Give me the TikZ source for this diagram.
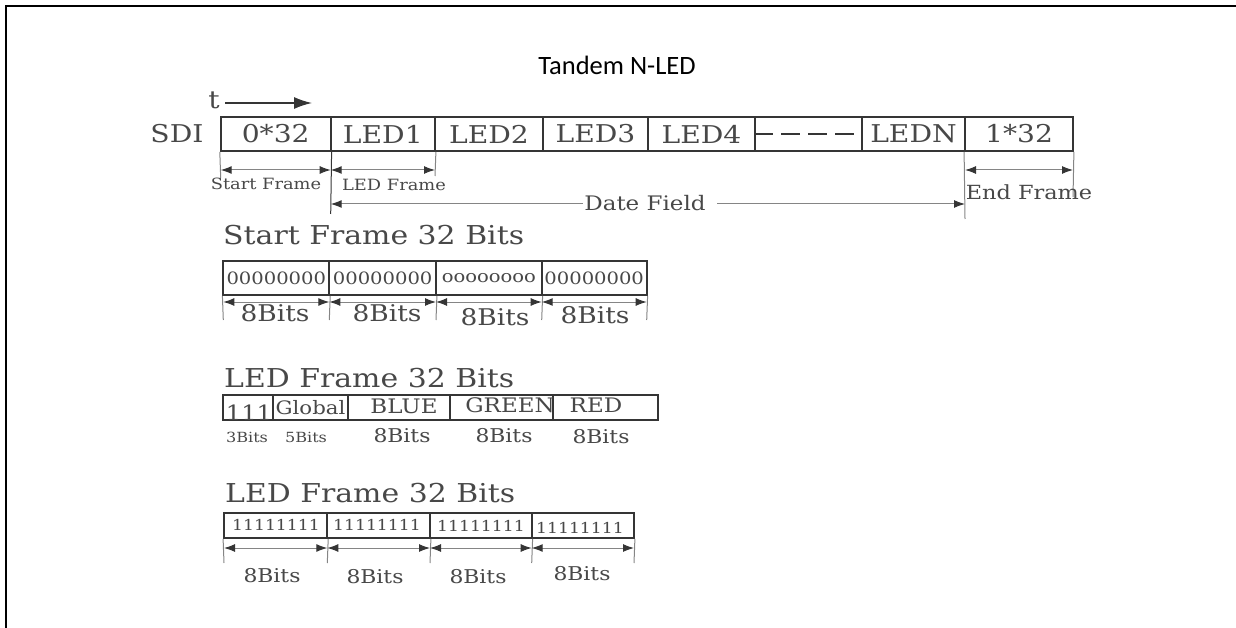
\documentclass[tikz,border=0pt]{standalone}
\usepackage{fontspec}
\setmainfont[FakeStretch=1.15]{DejaVu Serif}
\newfontfamily\titlefont{Carlito}
\usetikzlibrary{arrows.meta}
\newcommand\fsz[1]{\fontsize{#1}{#1}\selectfont}
\definecolor{ink}{HTML}{353535}
\definecolor{txt}{HTML}{484848}
\definecolor{dimc}{HTML}{858585}
\tikzset{
  cell/.style={draw=ink, line width=1.8pt, inner sep=0pt, text=txt},
  lbl/.style={text=txt, inner sep=0pt},
  dimline/.style={draw=dimc, line width=1pt},
  dimarrow/.style={draw=dimc, line width=1pt,
     {Latex[length=11pt,width=8pt,color=ink]}-{Latex[length=11pt,width=8pt,color=ink]}},
  rowfont/.style={font=\fsz{24.5}},
}
\begin{document}
\begin{tikzpicture}[x=1pt,y=-1pt]
\useasboundingbox (0,0) rectangle (1236,628);
% border
\coordinate (bTL) at (6,6);
\coordinate (bTR) at (1240,6);
\coordinate (bBL) at (6,632);
\draw[line width=2pt] (bTR) -- (bTL) -- (bBL);
% title
\node[font=\titlefont\fsz{26.5}, inner sep=0pt] (title) at (617,65) {Tandem N-LED};

% ---- main SDI row ----
\node[lbl, rowfont] (sdi) at (177,134) {SDI};
\node[lbl, rowfont] (t) at (214,100) {t};
\coordinate (tstart) at (225,103);
\coordinate (tend) at (312,103);
\draw[ink, line width=1.5pt, -{Latex[length=18pt,width=12pt]}] (tstart) -- (tend);

\begin{scope}[every node/.style={cell, rowfont, minimum height=34pt}]
\node[minimum width=110pt]   (c0) at (275.7,134) {0*32};
\node[minimum width=104.3pt] (c1) at (382.85,134) {LED1};
\node[minimum width=108pt]   (c2) at (489,134) {LED2};
\node[minimum width=105pt]   (c3) at (595.5,134) {LED3};
\node[minimum width=107pt]   (c4) at (701.5,134) {LED4};
\node[minimum width=107pt]   (c5) at (808.5,134) {};
\node[minimum width=103pt]   (c6) at (913.5,134) {LEDN};
\node[minimum width=108pt]   (c7) at (1019,134) {1*32};
\end{scope}
\coordinate (dashend) at (856,134);
\draw[ink, line width=2pt, dash pattern=on 19pt off 8pt] (c5.west) -- (dashend);

% ticks
\coordinate (t0) at (220.7,178);
\coordinate (t1) at (330.7,214);
\coordinate (t2) at (435,176);
\coordinate (t7) at (965,219);
\coordinate (t8) at (1073,197);
\draw[dimline] (c0.south west) -- (t0);
\draw[dimline, draw=ink] (c0.south east) -- (t1);
\draw[dimline] (c1.south east) -- (t2);
\draw[dimline] (c7.south west) -- (t7);
\draw[dimline] (c7.south east) -- (t8);
% arrows
\coordinate (a0) at (220.7,170);
\coordinate (a1) at (330.7,170);
\coordinate (a2) at (435,170);
\coordinate (a7) at (965,170);
\coordinate (a8) at (1073,170);
\draw[dimarrow] (a0) -- (a1);
\draw[dimarrow] (a1) -- (a2);
\draw[dimarrow] (a7) -- (a8);
\node[lbl, font=\fsz{15.5}] (sfl) at (266,184) {Start Frame};
\node[lbl, font=\fsz{15.5}] (lfl) at (394,185) {LED Frame};
\node[lbl, font=\fsz{19.5}] (efl) at (1029,192) {End Frame};
% date field
\node[lbl, font=\fsz{20}] (df) at (645,203) {Date Field};
\coordinate (d1) at (330.7,204);
\coordinate (dfl) at (583,204);
\coordinate (dfr) at (717,204);
\coordinate (d7) at (965,204);
\draw[dimline, {Latex[length=11pt,width=8pt,color=ink]}-] (d1) -- (dfl);
\draw[dimline, -{Latex[length=11pt,width=8pt,color=ink]}] (dfr) -- (d7);

% ---- Start Frame 32 Bits ----
\node[lbl, font=\fsz{26}, anchor=base west] (sft) at (223,245) {Start Frame 32 Bits};
\begin{scope}[every node/.style={cell, font=\fsz{17}, minimum height=34pt}]
\node[minimum width=106pt]   (s0) at (276.3,278) {00000000};
\node[minimum width=106.7pt] (s1) at (382.65,278) {00000000};
\node[minimum width=105.7pt] (s2) at (488.85,278) {oooooooo};
\node[minimum width=105pt]   (s3) at (594.2,278) {00000000};
\end{scope}
\coordinate (u0) at (223.3,320);
\coordinate (u1) at (329.3,320);
\coordinate (u2) at (436,320);
\coordinate (u3) at (541.7,320);
\coordinate (u4) at (646.7,320);
\draw[dimline] (s0.south west) -- (u0);
\draw[dimline] (s0.south east) -- (u1);
\draw[dimline] (s1.south east) -- (u2);
\draw[dimline] (s2.south east) -- (u3);
\draw[dimline] (s3.south east) -- (u4);
\coordinate (v0) at (223.3,302);
\coordinate (v1) at (329.3,302);
\coordinate (v2) at (436,302);
\coordinate (v3) at (541.7,302);
\coordinate (v4) at (646.7,302);
\draw[dimarrow] (v0) -- (v1);
\draw[dimarrow] (v1) -- (v2);
\draw[dimarrow] (v2) -- (v3);
\draw[dimarrow] (v3) -- (v4);
\node[lbl, font=\fsz{23}] (sb0) at (275,313) {8Bits};
\node[lbl, font=\fsz{23}] (sb1) at (387,313) {8Bits};
\node[lbl, font=\fsz{23}] (sb2) at (495,317) {8Bits};
\node[lbl, font=\fsz{23}] (sb3) at (595,315) {8Bits};

% ---- LED Frame 32 Bits (fields) ----
\node[lbl, font=\fsz{26}, anchor=base west] (lft) at (224,387) {LED Frame 32 Bits};
\begin{scope}[every node/.style={cell, minimum height=25pt}]
\node[minimum width=49.4pt]  (l0) at (248,407.5) {};
\node[minimum width=75.6pt, font=\fsz{18.5}]  (l1) at (310.5,407.5) {Global};
\node[minimum width=101.7pt] (l2) at (399.15,407.5) {};
\node[minimum width=102.7pt] (l3) at (501.35,407.5) {};
\node[minimum width=105.6pt] (l4) at (605.5,407.5) {};
\end{scope}
\node[lbl, font=\fsz{21}, anchor=base] (l0t) at (249,420) {111};
\node[lbl, font=\fsz{20}] (l2t) at (404,406) {BLUE};
\node[lbl, font=\fsz{20}] (l3t) at (510,405) {GREEN};
\node[lbl, font=\fsz{20}] (l4t) at (596,405) {RED};
\node[lbl, font=\fsz{14}] (lb0) at (247,437) {3Bits};
\node[lbl, font=\fsz{14}] (lb1) at (306,437) {5Bits};
\node[lbl, font=\fsz{19}] (lb2) at (402,436) {8Bits};
\node[lbl, font=\fsz{19}] (lb3) at (504,436) {8Bits};
\node[lbl, font=\fsz{19}] (lb4) at (601,437) {8Bits};

% ---- LED Frame 32 Bits (ones) ----
\node[lbl, font=\fsz{26}, anchor=base west] (oft) at (225,502) {LED Frame 32 Bits};
\begin{scope}[every node/.style={cell, minimum height=25pt}]
\node[minimum width=103.3pt] (o0) at (275.65,525.5) {};
\node[minimum width=102.7pt] (o1) at (378.65,525.5) {};
\node[minimum width=101.7pt] (o2) at (480.85,525.5) {};
\node[minimum width=102.3pt] (o3) at (582.85,525.5) {};
\end{scope}
\node[lbl, font=\fsz{15}] (o0t) at (276,525) {11111111};
\node[lbl, font=\fsz{15}] (o1t) at (377,525) {11111111};
\node[lbl, font=\fsz{15}] (o2t) at (481,526) {11111111};
\node[lbl, font=\fsz{15}] (o3t) at (580,528) {11111111};
\coordinate (w0) at (224,563);
\coordinate (w1) at (327.3,563);
\coordinate (w2) at (430,563);
\coordinate (w3) at (531.7,563);
\coordinate (w4) at (634,563);
\draw[dimline] (o0.south west) -- (w0);
\draw[dimline] (o0.south east) -- (w1);
\draw[dimline] (o1.south east) -- (w2);
\draw[dimline] (o2.south east) -- (w3);
\draw[dimline] (o3.south east) -- (w4);
\coordinate (z0) at (224,548);
\coordinate (z1) at (327.3,548);
\coordinate (z2) at (430,548);
\coordinate (z3) at (531.7,548);
\coordinate (z4) at (634,548);
\draw[dimarrow] (z0) -- (z1);
\draw[dimarrow] (z1) -- (z2);
\draw[dimarrow] (z2) -- (z3);
\draw[dimarrow] (z3) -- (z4);
\node[lbl, font=\fsz{19}] (ob0) at (272,576) {8Bits};
\node[lbl, font=\fsz{19}] (ob1) at (375,577) {8Bits};
\node[lbl, font=\fsz{19}] (ob2) at (478,577) {8Bits};
\node[lbl, font=\fsz{19}] (ob3) at (582,574) {8Bits};
\end{tikzpicture}
\end{document}
